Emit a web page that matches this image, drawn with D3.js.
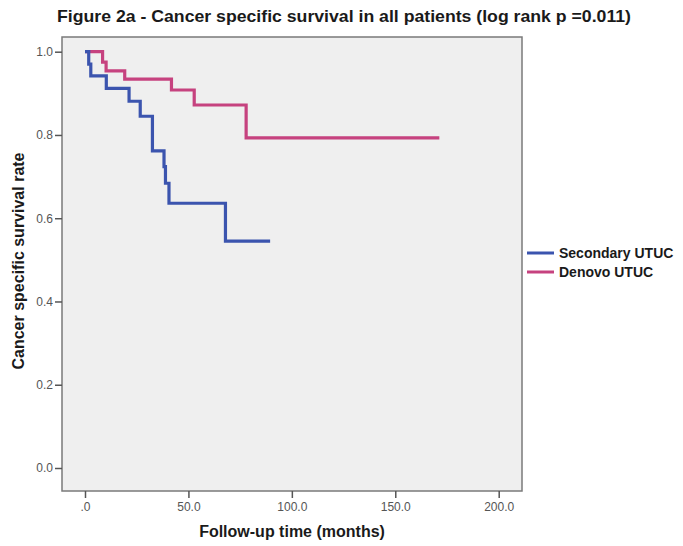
<!DOCTYPE html>
<html>
<head>
<meta charset="utf-8">
<script src="https://cdn.jsdelivr.net/npm/d3@7"></script>
<style>
  html, body { margin: 0; padding: 0; background: #ffffff; }
  svg { display: block; }
</style>
</head>
<body>
<svg id="chart" width="683" height="546"></svg>
<script>
// ---- data ----
const seriesNames = ["Secondary UTUC", "Denovo UTUC"];
const secondaryTimes = [0, 1.8, 2.8, 10.3, 21.3, 26.7, 32.6, 38.2, 38.9, 40.6, 67.9, 89.5];
const secondarySurv  = [1.0, 0.970, 0.942, 0.912, 0.881, 0.845, 0.762, 0.724, 0.684, 0.636, 0.545, 0.545];
const denovoTimes = [0, 8.5, 10.2, 19.2, 41.8, 52.8, 77.9, 171.3];
const denovoSurv  = [1.0, 0.975, 0.954, 0.934, 0.908, 0.872, 0.793, 0.793];
const xTicks = [0, 50, 100, 150, 200];
const xTickLabels = [".0", "50.0", "100.0", "150.0", "200.0"];
const yTicks = [0, 0.2, 0.4, 0.6, 0.8, 1.0];
const yTickLabels = ["0.0", "0.2", "0.4", "0.6", "0.8", "1.0"];
const titleText = "Figure 2a - Cancer specific survival in all patients (log rank p =0.011)";
const xTitle = "Follow-up time (months)";
const yTitle = "Cancer specific survival rate";
const colors = ["#3b54ae", "#c6427f"];

// ---- layout ----
const svg = d3.select("#chart");
const frame = { left: 62, right: 522, top: 37, bottom: 491 };
const x = d3.scaleLinear().domain([0, 200]).range([85, 498.7]);
const y = d3.scaleLinear().domain([0, 1]).range([468, 51.7]);

// plot background
svg.append("rect")
  .attr("x", frame.left).attr("y", frame.top)
  .attr("width", frame.right - frame.left).attr("height", frame.bottom - frame.top)
  .attr("fill", "#efefef").attr("stroke", "#7a7a7a").attr("stroke-width", 1.5);

const tickFont = "'Liberation Sans Narrow','Liberation Sans',Arial,sans-serif";

// y axis
const yAxis = d3.axisLeft(y).tickValues(yTicks)
  .tickFormat((d, i) => yTickLabels[i]).tickSize(7).tickPadding(2);
const gy = svg.append("g").attr("transform", `translate(${frame.left},0)`).call(yAxis);
gy.select(".domain").remove();
gy.selectAll(".tick line").attr("stroke", "#555").attr("stroke-width", 1.5);
gy.selectAll(".tick text").attr("fill", "#555")
  .style("font-family", tickFont).style("font-size", "12px");

// x axis
const xAxis = d3.axisBottom(x).tickValues(xTicks)
  .tickFormat((d, i) => xTickLabels[i]).tickSize(7).tickPadding(4);
const gx = svg.append("g").attr("transform", `translate(0,${frame.bottom})`).call(xAxis);
gx.select(".domain").remove();
gx.selectAll(".tick line").attr("stroke", "#555").attr("stroke-width", 1.5);
gx.selectAll(".tick text").attr("fill", "#555")
  .style("font-family", tickFont).style("font-size", "12px");

// survival step lines
const line = d3.line().x(d => x(d[0])).y(d => y(d[1])).curve(d3.curveStepAfter);
const series = [
  d3.zip(secondaryTimes, secondarySurv),
  d3.zip(denovoTimes, denovoSurv)
];
[1, 0].forEach(i => {
  svg.append("path").datum(series[i])
    .attr("d", line).attr("fill", "none")
    .attr("stroke", colors[i]).attr("stroke-width", 3.2)
    .attr("stroke-linejoin", "miter").attr("stroke-linecap", "butt");
});

// titles
const boldFont = "'Liberation Sans',Arial,sans-serif";
svg.append("text").text(titleText)
  .attr("x", 57).attr("y", 22)
  .attr("textLength", 574).attr("lengthAdjust", "spacingAndGlyphs")
  .style("font-family", boldFont).style("font-weight", "bold").style("font-size", "16.5px")
  .attr("fill", "#1a1a1a");

svg.append("text").text(xTitle)
  .attr("x", 292).attr("y", 537).attr("text-anchor", "middle")
  .style("font-family", boldFont).style("font-weight", "bold").style("font-size", "16px")
  .attr("fill", "#1a1a1a");

svg.append("text").text(yTitle)
  .attr("transform", "translate(24,261) rotate(-90)").attr("text-anchor", "middle")
  .style("font-family", boldFont).style("font-weight", "bold").style("font-size", "16px")
  .attr("fill", "#1a1a1a");

// legend
const legend = svg.append("g");
seriesNames.forEach((name, i) => {
  const ly = 253 + i * 19;
  legend.append("line").attr("x1", 527).attr("x2", 554).attr("y1", ly).attr("y2", ly)
    .attr("stroke", colors[i]).attr("stroke-width", 3);
  legend.append("text").text(name).attr("x", 559).attr("y", ly + 5)
    .style("font-family", boldFont).style("font-weight", "bold").style("font-size", "14px")
    .attr("fill", "#1a1a1a");
});
</script>
</body>
</html>
